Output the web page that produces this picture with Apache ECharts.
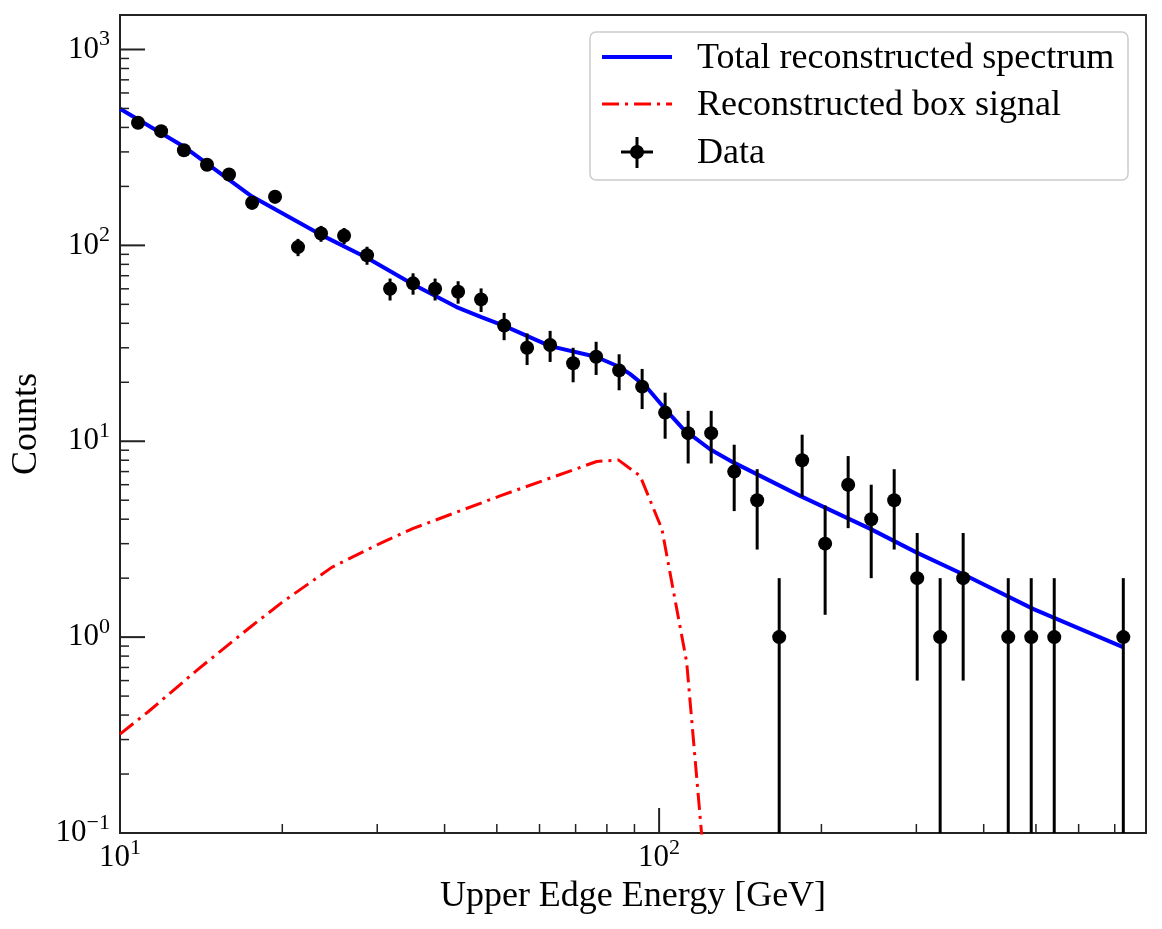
<!DOCTYPE html>
<html>
<head>
<meta charset="utf-8">
<script src="https://cdn.jsdelivr.net/npm/echarts@6/dist/echarts.min.js"></script>
<style>
html, body { margin: 0; padding: 0; background: #fff; }
#chart { width: 1162px; height: 929px; }
</style>
</head>
<body>
<div id="chart"></div>
<script>
// bin energies (GeV), counts and errors
var energy = [10.8, 11.92, 13.14, 14.5, 15.93, 17.58, 19.39, 21.39, 23.6, 26.04,
              28.72, 31.69, 34.96, 38.41, 42.38, 46.75, 51.58, 56.9, 62.78, 69.26,
              76.41, 84.3, 93.0, 102.6, 113.2, 124.9, 137.8, 152.0, 167.0, 184.2,
              203.2, 224.2, 247.4, 272.9, 301.1, 332.1, 366.4, 444.2, 490.0, 540.6, 726.1];
var counts = [423, 383, 306, 258, 230, 165, 177, 98, 115, 112,
              89, 60, 64, 60, 58, 53, 39, 30, 31, 25,
              27, 23, 19, 14, 11, 11, 7, 5, 1, 8,
              3, 6, 4, 5, 2, 1, 2, 1, 1, 1, 1];
var errs = [20.6, 19.6, 17.5, 16.1, 15.2, 12.8, 13.3, 9.9, 10.7, 10.6,
            9.4, 7.7, 8.0, 7.7, 7.6, 7.3, 6.2, 5.5, 5.6, 5.0,
            5.2, 4.8, 4.4, 3.7, 3.3, 3.3, 2.6, 2.2, 1.0, 2.8,
            1.7, 2.4, 2.0, 2.2, 1.4, 1.0, 1.4, 1.0, 1.0, 1.0, 1.0];

// total reconstructed spectrum
var totalX = [10, 13.1, 17.55, 23.5, 28.7, 35.0, 42.1, 46.8, 51.6, 62.8, 76.3, 84.3, 88.4,
              94.9, 102.6, 111, 124.3, 137.3, 182.6, 247, 300.6, 372, 495, 727];
var totalY = [498, 321, 178, 113.8, 86.5, 63.2, 48.4, 43.0, 38.8, 30.6, 27.0, 24.0, 22.0,
              18.8, 14.6, 11.5, 9.1, 7.8, 5.26, 3.56, 2.70, 2.05, 1.39, 0.886];

// reconstructed box signal
var boxX = [10, 11.28, 13.97, 17.55, 19.95, 24.7, 30.6, 35.0, 50.7, 76.6, 84.0, 92.2, 101.2, 112.5, 124.5];
var boxY = [0.32, 0.416, 0.687, 1.14, 1.50, 2.27, 3.04, 3.59, 5.26, 7.88, 8.03, 6.65, 3.56, 0.743, 0.03];

var xMajor = [10, 100];
var xMinor = [20, 30, 40, 50, 60, 70, 80, 90, 200, 300, 400, 500, 600, 700];
var yMajor = [0.1, 1, 10, 100, 1000];
var yMinor = [0.2, 0.3, 0.4, 0.5, 0.6, 0.7, 0.8, 0.9,
              2, 3, 4, 5, 6, 7, 8, 9,
              20, 30, 40, 50, 60, 70, 80, 90,
              200, 300, 400, 500, 600, 700, 800, 900];

var FONT = '"Liberation Serif", "DejaVu Serif", serif';

function pow10Label(v) {
  var e = Math.log10(v);
  var r = Math.round(e);
  if (Math.abs(e - r) > 1e-6) return '';
  return '{b|10}{s|' + (r < 0 ? '\u2212' + (-r) : r) + '}';
}
var labelRich = {
  b: { fontSize: 31, fontFamily: FONT, color: '#000' },
  s: { fontSize: 22, fontFamily: FONT, color: '#000', padding: [0, 0, 20, 0] }
};

function pairs(xs, ys) {
  return xs.map(function (x, i) { return [x, ys[i]]; });
}

var chart = echarts.init(document.getElementById('chart'));

var option = {
  backgroundColor: '#fff',
  animation: false,
  grid: { left: 120, right: 16, top: 15, bottom: 96, show: true,
          borderColor: '#222', borderWidth: 2, backgroundColor: 'transparent' },
  xAxis: {
    type: 'log', logBase: 10, min: 10, max: 800,
    name: 'Upper Edge Energy [GeV]', nameLocation: 'middle', nameGap: 42,
    nameTextStyle: { fontSize: 36, fontFamily: FONT, color: '#000' },
    axisLine: { show: false }, axisTick: { show: false }, splitLine: { show: false },
    axisLabel: { formatter: pow10Label, rich: labelRich, margin: 4, showMaxLabel: false }
  },
  yAxis: {
    type: 'log', logBase: 10, min: 0.1, max: 1500,
    name: 'Counts', nameLocation: 'middle', nameGap: 70,
    nameTextStyle: { fontSize: 36, fontFamily: FONT, color: '#000' },
    axisLine: { show: false }, axisTick: { show: false }, splitLine: { show: false },
    axisLabel: { formatter: pow10Label, rich: labelRich, margin: 10, showMaxLabel: false }
  },
  series: [
    {
      name: 'Reconstructed box signal', type: 'line', data: pairs(boxX, boxY),
      showSymbol: false, symbol: 'none', z: 2,
      lineStyle: { color: '#ff0000', width: 3, type: [17, 6, 3, 6] }
    },
    {
      name: 'Total reconstructed spectrum', type: 'line', data: pairs(totalX, totalY),
      showSymbol: false, symbol: 'none', z: 3,
      lineStyle: { color: '#0000ff', width: 4 }
    },
    {
      name: 'Data', type: 'custom', z: 4,
      data: energy.map(function (x, i) { return [x, counts[i], errs[i]]; }),
      encode: { x: 0, y: 1 },
      renderItem: function (params, api) {
        var x = api.value(0), y = api.value(1), e = api.value(2);
        var cs = params.coordSys;
        var bottom = cs.y + cs.height;
        var c = api.coord([x, y]);
        var lo = (y - e) > 0 ? api.coord([x, y - e])[1] : bottom;
        lo = Math.min(lo, bottom);
        var hi = api.coord([x, y + e])[1];
        return {
          type: 'group',
          children: [
            { type: 'line', shape: { x1: c[0], y1: hi, x2: c[0], y2: lo },
              style: { stroke: '#000', lineWidth: 3 } },
            { type: 'circle', shape: { cx: c[0], cy: c[1], r: 7 },
              style: { fill: '#000' } }
          ]
        };
      }
    }
  ]
};
chart.setOption(option);

// inward ticks on bottom and left, placed through the axis scales
var origin = chart.convertToPixel({ gridIndex: 0 }, [10, 0.1]);
var gx = origin[0], gy = origin[1];
var els = [];
function xt(v, len, w) {
  var p = chart.convertToPixel({ gridIndex: 0 }, [v, 0.1]);
  els.push({ type: 'line', shape: { x1: p[0], y1: gy, x2: p[0], y2: gy - len },
             style: { stroke: '#222', lineWidth: w }, z: 10 });
}
function yt(v, len, w) {
  var p = chart.convertToPixel({ gridIndex: 0 }, [10, v]);
  els.push({ type: 'line', shape: { x1: gx, y1: p[1], x2: gx + len, y2: p[1] },
             style: { stroke: '#222', lineWidth: w }, z: 10 });
}
xMajor.forEach(function (v) { xt(v, 25, 2); });
xMinor.forEach(function (v) { xt(v, 9, 1.5); });
yMajor.forEach(function (v) { yt(v, 25, 2); });
yMinor.forEach(function (v) { yt(v, 9, 1.5); });

// legend box
var lx = 590, ly = 32;
els.push({ type: 'rect', shape: { x: lx, y: ly, width: 538, height: 148, r: 6 },
           style: { fill: 'rgba(255,255,255,0.85)', stroke: '#cccccc', lineWidth: 1.5 }, z: 20 });
els.push({ type: 'line', shape: { x1: 602, y1: 57, x2: 672, y2: 57 },
           style: { stroke: '#0000ff', lineWidth: 4 }, z: 21 });
els.push({ type: 'line', shape: { x1: 602, y1: 104, x2: 672, y2: 104 },
           style: { stroke: '#ff0000', lineWidth: 3, lineDash: [17, 6, 3, 6] }, z: 21 });
els.push({ type: 'line', shape: { x1: 637, y1: 137, x2: 637, y2: 168 },
           style: { stroke: '#000', lineWidth: 3 }, z: 21 });
els.push({ type: 'line', shape: { x1: 621, y1: 152, x2: 653, y2: 152 },
           style: { stroke: '#000', lineWidth: 3 }, z: 21 });
els.push({ type: 'circle', shape: { cx: 637, cy: 152, r: 7 }, style: { fill: '#000' }, z: 21 });
[['Total reconstructed spectrum', 57], ['Reconstructed box signal', 104], ['Data', 152]].forEach(function (t) {
  els.push({ type: 'text', x: 697, y: t[1] + 2, z: 21,
             style: { text: t[0], font: '36px ' + FONT, fill: '#000', verticalAlign: 'middle' } });
});

chart.setOption({ graphic: els });
</script>
</body>
</html>
